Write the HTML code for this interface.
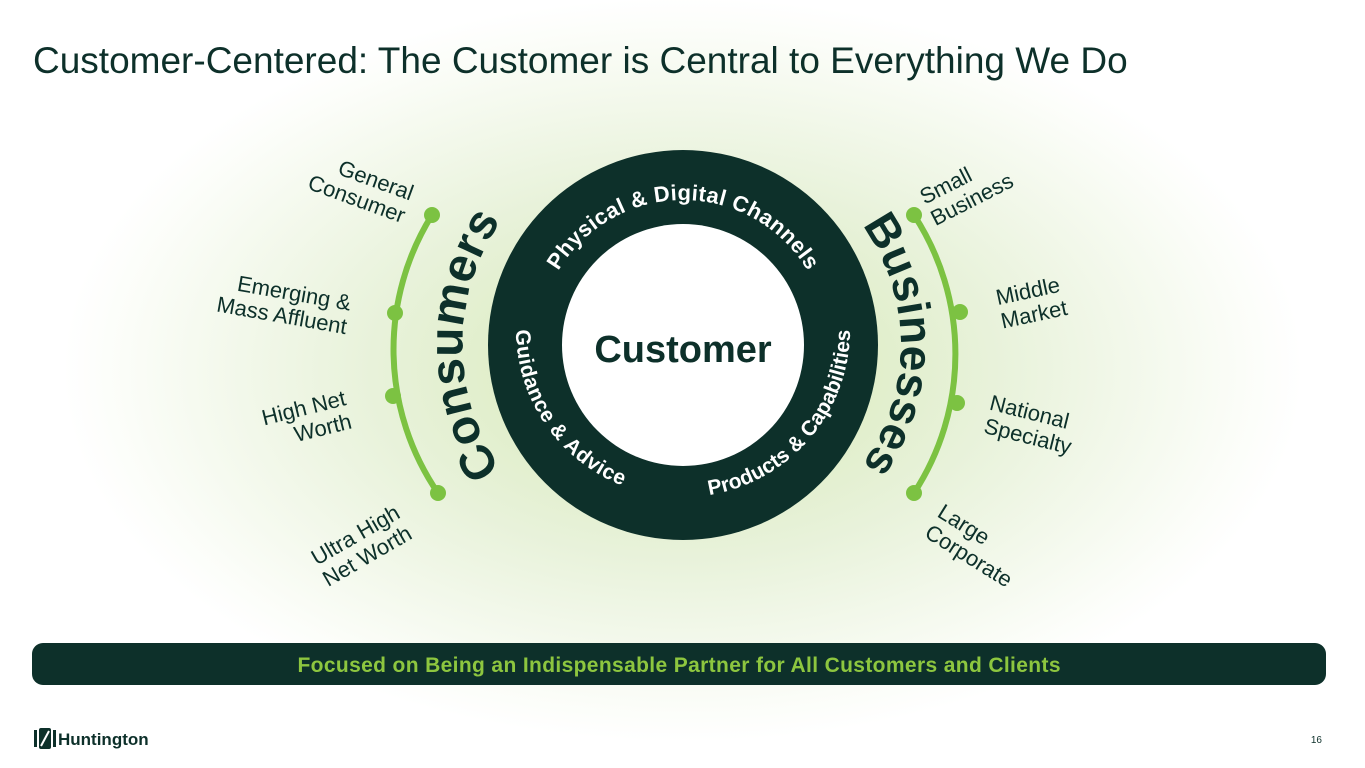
<!DOCTYPE html>
<html><head><meta charset="utf-8"><style>
html,body{margin:0;padding:0;width:1365px;height:768px;overflow:hidden;background:#fff;font-family:"Liberation Sans",sans-serif}
.t{position:absolute;left:33px;top:40px;font-size:37px;color:#0d302a;white-space:nowrap}
.lbl{position:absolute;font-size:22px;color:#0d302a;line-height:24px;white-space:nowrap;transform-origin:center}
</style></head><body>
<svg width="1365" height="768" style="position:absolute;left:0;top:0">
<defs>
<radialGradient id="g" cx="683" cy="370" r="620" gradientUnits="userSpaceOnUse" gradientTransform="translate(683 370) scale(1 0.6) translate(-683 -370)">
<stop offset="0" stop-color="#d6e9b4"/><stop offset="0.5" stop-color="#e8f2da"/><stop offset="0.9" stop-color="#fbfdf8"/><stop offset="1" stop-color="#ffffff"/></radialGradient>
<path id="top" d="M538,345 A145,145 0 0 1 828,345"/>
<path id="bot" d="M516,330 A167,167 0 0 0 850,330"/>
<path id="con" d="M495,460 A220,220 0 0 1 495,230"/>
<path id="bus" d="M862,225 A205,205 0 0 1 862,465"/>
</defs>
<rect width="1365" height="768" fill="url(#g)"/>
<path d="M432,215 A254,254 0 0 0 438,493" fill="none" stroke="#7cc242" stroke-width="6"/>
<path d="M914,215 A254,254 0 0 1 914,493" fill="none" stroke="#7cc242" stroke-width="6"/>
<g fill="#7cc242"><circle cx="432" cy="215" r="8"/><circle cx="395" cy="313" r="8"/><circle cx="393" cy="396" r="8"/><circle cx="438" cy="493" r="8"/>
<circle cx="914" cy="215" r="8"/><circle cx="960" cy="312" r="8"/><circle cx="957" cy="403" r="8"/><circle cx="914" cy="493" r="8"/></g>
<circle cx="683" cy="345" r="195" fill="#0d302a"/>
<circle cx="683" cy="345" r="121" fill="#fff"/>
<text font-family="Liberation Sans,sans-serif" font-weight="bold" font-size="22" fill="#fff"><textPath href="#top" startOffset="50%" text-anchor="middle" textLength="300">Physical &amp; Digital Channels</textPath></text>
<text font-family="Liberation Sans,sans-serif" font-weight="bold" font-size="21" fill="#fff"><textPath href="#bot" startOffset="0" textLength="200">Guidance &amp; Advice</textPath></text>
<text font-family="Liberation Sans,sans-serif" font-weight="bold" font-size="21" fill="#fff"><textPath href="#bot" startOffset="100%" text-anchor="end">Products &amp; Capabilities</textPath></text>
<text x="683" y="362" text-anchor="middle" font-family="Liberation Sans,sans-serif" font-weight="bold" font-size="38" fill="#0d302a">Customer</text>
<text font-family="Liberation Sans,sans-serif" font-weight="bold" font-size="48" fill="#0d302a"><textPath href="#con" startOffset="50%" text-anchor="middle">Consumers</textPath></text>
<text font-family="Liberation Sans,sans-serif" font-weight="bold" font-size="46" fill="#0d302a"><textPath href="#bus" startOffset="50%" text-anchor="middle">Businesses</textPath></text>
<rect x="32" y="643" width="1294" height="42" rx="11" fill="#0d302a"/>
<text x="679" y="672" text-anchor="middle" font-family="Liberation Sans,sans-serif" font-weight="bold" font-size="21" fill="#8dc63f" textLength="763">Focused on Being an Indispensable Partner for All Customers and Clients</text>
<g fill="#0d302a"><rect x="34" y="730" width="3" height="17"/><rect x="39" y="728" width="12" height="21" rx="2"/><rect x="53" y="730" width="3" height="17"/></g>
<path d="M41,746 L49,731" stroke="#fff" stroke-width="2"/>
<text x="58" y="745" font-family="Liberation Sans,sans-serif" font-weight="bold" font-size="17" fill="#0d302a">Huntington</text>
<text x="1322" y="743" text-anchor="end" font-family="Liberation Sans,sans-serif" font-size="10" fill="#0d302a">16</text>
</svg>
<div class="t">Customer-Centered: The Customer is Central to Everything We Do</div>
<div class="lbl" style="left:310px;top:164px;transform:rotate(20deg);text-align:right">General<br>Consumer</div>
<div class="lbl" style="left:218px;top:280px;transform:rotate(10deg);text-align:right">Emerging &amp;<br>Mass Affluent</div>
<div class="lbl" style="left:264px;top:396px;transform:rotate(-14deg);text-align:right">High Net<br>Worth</div>
<div class="lbl" style="left:312px;top:522px;transform:rotate(-30deg);text-align:right">Ultra High<br>Net Worth</div>
<div class="lbl" style="left:922px;top:165px;transform:rotate(-27deg)">Small<br>Business</div>
<div class="lbl" style="left:998px;top:279px;transform:rotate(-12deg)">Middle<br>Market</div>
<div class="lbl" style="left:986px;top:401px;transform:rotate(14deg)">National<br>Specialty</div>
<div class="lbl" style="left:926px;top:522px;transform:rotate(32deg)">Large<br>Corporate</div>
</body></html>
